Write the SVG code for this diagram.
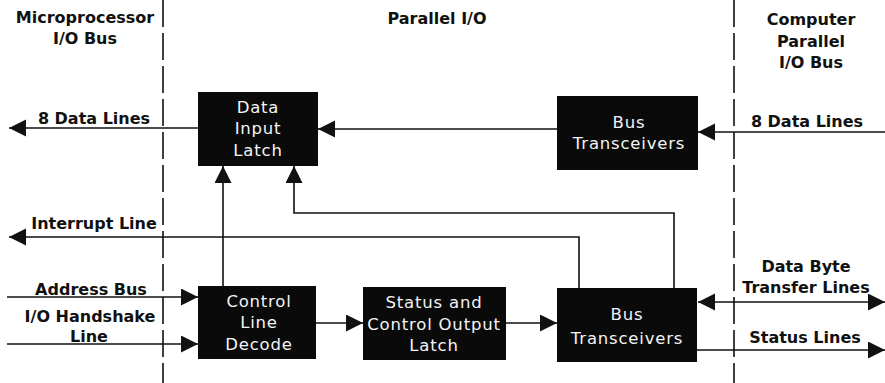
<svg xmlns="http://www.w3.org/2000/svg" width="885" height="383" viewBox="0 0 885 383">
<style>
.bg{fill:#fff}
.box{fill:#0a0a0a}
.bt{font-family:"DejaVu Sans","Liberation Sans",sans-serif;font-size:16.5px;fill:#f4f4f4;text-anchor:middle;letter-spacing:0.8px}
.lb{font-family:"DejaVu Sans","Liberation Sans",sans-serif;font-weight:bold;font-size:16px;fill:#111;text-anchor:middle}
.ln{fill:none;stroke:#111;stroke-width:1.6}
.dash{fill:none;stroke:#111;stroke-width:1.6;stroke-dasharray:27 6}
</style>
<defs>
<marker id="ah" markerUnits="userSpaceOnUse" markerWidth="18" markerHeight="18" refX="17" refY="8.5" orient="auto-start-reverse" viewBox="0 0 18 18">
<path d="M0,0 L17,8.5 L0,17 z" fill="#111"/>
</marker>
</defs>
<rect class="bg" x="0" y="0" width="885" height="383"/>

<g id="dividers">
<line class="dash" x1="163" y1="0" x2="163" y2="383"/>
<line class="dash" x1="734" y1="0" x2="734" y2="383"/>
</g>

<g id="headers">
<text class="lb" x="85" y="23">Microprocessor</text>
<text class="lb" x="85" y="44">I/O Bus</text>
<text class="lb" x="437" y="24">Parallel I/O</text>
<text class="lb" x="811" y="25">Computer</text>
<text class="lb" x="811" y="47">Parallel</text>
<text class="lb" x="811" y="68">I/O Bus</text>
</g>

<g id="connectors">
<line class="ln" x1="198" y1="128" x2="9" y2="128" marker-end="url(#ah)"/>
<line class="ln" x1="557" y1="129" x2="318" y2="129" marker-end="url(#ah)"/>
<line class="ln" x1="885" y1="132" x2="698" y2="132" marker-end="url(#ah)"/>
<line class="ln" x1="223" y1="286" x2="223" y2="166" marker-end="url(#ah)"/>
<polyline class="ln" points="674,288 674,213 294,213 294,166" marker-end="url(#ah)"/>
<polyline class="ln" points="579,288 579,237 9,237" marker-end="url(#ah)"/>
<line class="ln" x1="7" y1="297" x2="198" y2="297" marker-end="url(#ah)"/>
<line class="ln" x1="7" y1="344" x2="198" y2="344" marker-end="url(#ah)"/>
<line class="ln" x1="316" y1="323" x2="363" y2="323" marker-end="url(#ah)"/>
<line class="ln" x1="506" y1="323" x2="557" y2="323" marker-end="url(#ah)"/>
<line class="ln" x1="698" y1="302" x2="885" y2="302" marker-start="url(#ah)" marker-end="url(#ah)"/>
<line class="ln" x1="697" y1="350" x2="885" y2="350" marker-end="url(#ah)"/>
</g>

<g id="labels">
<text class="lb" x="94" y="124">8 Data Lines</text>
<text class="lb" x="807" y="127">8 Data Lines</text>
<text class="lb" x="94" y="229">Interrupt Line</text>
<text class="lb" x="91" y="295">Address Bus</text>
<text class="lb" x="90" y="322">I/O Handshake</text>
<text class="lb" x="89" y="342">Line</text>
<text class="lb" x="806" y="272">Data Byte</text>
<text class="lb" x="806" y="293">Transfer Lines</text>
<text class="lb" x="805" y="343">Status Lines</text>
</g>

<g id="data-input-latch">
<rect class="box" x="198" y="92" width="120" height="74"/>
<text class="bt" x="258" y="113">Data</text>
<text class="bt" x="258" y="134">Input</text>
<text class="bt" x="258" y="156">Latch</text>
</g>

<g id="bus-transceivers-top">
<rect class="box" x="557" y="96" width="141" height="74"/>
<text class="bt" x="629" y="128">Bus</text>
<text class="bt" x="629" y="149">Transceivers</text>
</g>

<g id="control-line-decode">
<rect class="box" x="198" y="286" width="118" height="73"/>
<text class="bt" x="259" y="307">Control</text>
<text class="bt" x="259" y="328">Line</text>
<text class="bt" x="259" y="350">Decode</text>
</g>

<g id="status-control-latch">
<rect class="box" x="363" y="287" width="143" height="73"/>
<text class="bt" x="434" y="308">Status and</text>
<text class="bt" x="434" y="330">Control Output</text>
<text class="bt" x="434" y="351">Latch</text>
</g>

<g id="bus-transceivers-bottom">
<rect class="box" x="557" y="288" width="140" height="74"/>
<text class="bt" x="627" y="320">Bus</text>
<text class="bt" x="627" y="344">Transceivers</text>
</g>
</svg>
